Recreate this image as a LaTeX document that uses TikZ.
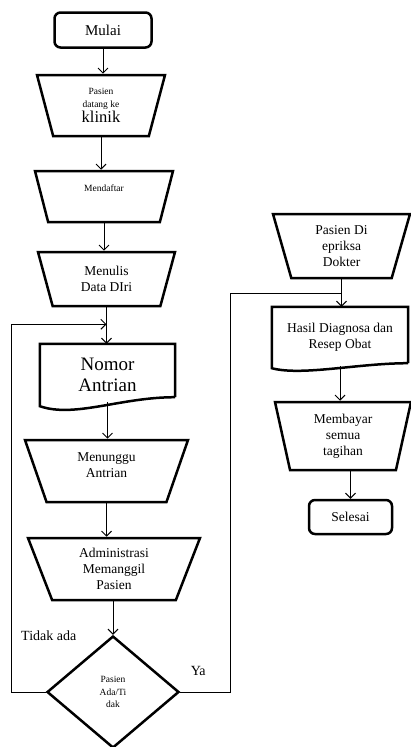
\documentclass[tikz,border=0pt]{standalone}
\usepackage{fontspec}
\setmainfont{Liberation Serif}
\usetikzlibrary{shapes.geometric, arrows.meta, positioning}

\begin{document}
\begin{tikzpicture}[x=1pt,y=1pt,on grid,>={Straight Barb[length=5pt,width=10pt]},
        terminal/.style={draw,line width=2.5pt,rounded corners=6pt,align=center},
        proses/.style={draw,line width=2.5pt,trapezium,shape border rotate=180,
            trapezium stretches body,align=center,inner sep=1pt},
        dokumen/.style={minimum width=135pt,align=center,inner sep=1pt},
        keputusan/.style={draw,line width=2.5pt,diamond,minimum width=132pt,
            minimum height=112pt,inner sep=0pt,align=center},
        alur/.style={->,line width=1pt},
        garis/.style={line width=1pt},
        kecil/.style={font=\fontsize{9.5}{12.5}\selectfont},
        sedang/.style={font=\fontsize{13.5}{16}\selectfont}]

        \useasboundingbox (0,0) rectangle (411,-747);

        % kolom kiri
        \node[terminal,minimum width=97pt,minimum height=35pt,font=\fontsize{15}{17}\selectfont] (mulai) at (103,-30) {Mulai};
        \node[proses,trapezium angle=66,minimum width=128pt,minimum height=61pt,kecil] (datang) [below left=75.5pt and 2pt of mulai] {Pasien\\datang ke\\[1pt]\fontsize{16.5}{17}\selectfont klinik};
        \node[proses,trapezium angle=62,minimum width=138pt,minimum height=51pt,kecil,text depth=16pt] (daftar) [below right=91pt and 3pt of datang] {Mendaftar};
        \node[proses,trapezium angle=62,minimum width=137pt,minimum height=54pt,sedang] (menulis) [below right=82.5pt and 2.5pt of daftar] {Menulis\\Data DIri};
        \node[dokumen,minimum height=62pt,font=\fontsize{19}{21}\selectfont] (nomor) [below right=96pt and 1pt of menulis] {Nomor\\Antrian};
        \node[proses,trapezium angle=61,minimum width=163pt,minimum height=62pt,sedang,text depth=12pt] (menunggu) [below left=96pt and 1pt of nomor] {Menunggu\\Antrian};
        \node[proses,trapezium angle=61,minimum width=172pt,minimum height=62pt,sedang] (admin) [below right=98pt and 7.5pt of menunggu] {Administrasi\\Memanggil\\Pasien};
        \node[keputusan,kecil] (cek) [below left=123pt and 1pt of admin] {Pasien\\Ada/Ti\\dak};

        % kolom kanan
        \node[proses,trapezium angle=67,minimum width=137pt,minimum height=64pt,sedang] (periksa) [above right=33pt and 235pt of menulis] {Pasien Di\\epriksa\\Dokter};
        \node[dokumen,minimum width=136pt,minimum height=61pt,sedang] (hasil) [below left=91.5pt and 1.5pt of periksa] {Hasil Diagnosa dan\\Resep Obat};
        \node[proses,trapezium angle=72,minimum width=136pt,minimum height=68pt,sedang] (bayar) [below right=98.5pt and 3pt of hasil] {Membayar\\semua\\tagihan};
        \node[terminal,minimum width=83pt,minimum height=34pt,sedang] (selesai) [below right=81pt and 7.5pt of bayar] {Selesai};

        % bentuk dokumen
        \draw[line width=2.5pt] ([yshift=9pt]nomor.south east) -- (nomor.north east) -- (nomor.north west) -- (nomor.south west)
            .. controls +(35pt,-12pt) and +(-55pt,0pt) .. ([yshift=9pt]nomor.south east);
        \draw[line width=2.5pt] ([yshift=5pt]hasil.south east) -- (hasil.north east) -- (hasil.north west) -- (hasil.south west)
            .. controls +(30pt,-8pt) and +(-50pt,0pt) .. ([yshift=5pt]hasil.south east);

        % alur
        \draw[alur] (mulai.south) -- (mulai.south |- datang.north);
        \draw[alur] (datang.south) -- (datang.south |- daftar.north);
        \draw[alur] (daftar.south) -- (daftar.south |- menulis.north);
        \draw[alur] (menulis.south) -- (menulis.south |- nomor.north);
        \draw[alur] ([yshift=4pt]nomor.south) -- (nomor.south |- menunggu.north);
        \draw[alur] (menunggu.south) -- (menunggu.south |- admin.north);
        \draw[alur] (admin.south -| cek.north) -- (cek.north);
        \draw[alur] (periksa.south) -- (periksa.south |- hasil.north);
        \draw[alur] ([yshift=2pt]hasil.south) -- (hasil.south |- bayar.north);
        \draw[alur] (bayar.south -| selesai.north) -- (selesai.north);

        % kembali / lanjut
        \coordinate (gabung) at ([yshift=-17pt]menulis.south);
        \coordinate[left=34pt of cek.west] (belokkiri);
        \draw[alur] (cek.west) -- (belokkiri) |- (gabung);
        \coordinate (masuk) at ([yshift=-14pt]periksa.south);
        \coordinate[right=50pt of cek.east] (belokkanan);
        \draw[garis] (cek.east) -- (belokkanan) |- (masuk);

        \node[font=\fontsize{14}{16}\selectfont] (tidak) [above right=56pt and 3pt of cek.west, anchor=center] {Tidak ada};
        \node[font=\fontsize{14}{16}\selectfont] (ya) [above right=21pt and 18pt of cek.east, anchor=center] {Ya};
    \end{tikzpicture}
\end{document}
